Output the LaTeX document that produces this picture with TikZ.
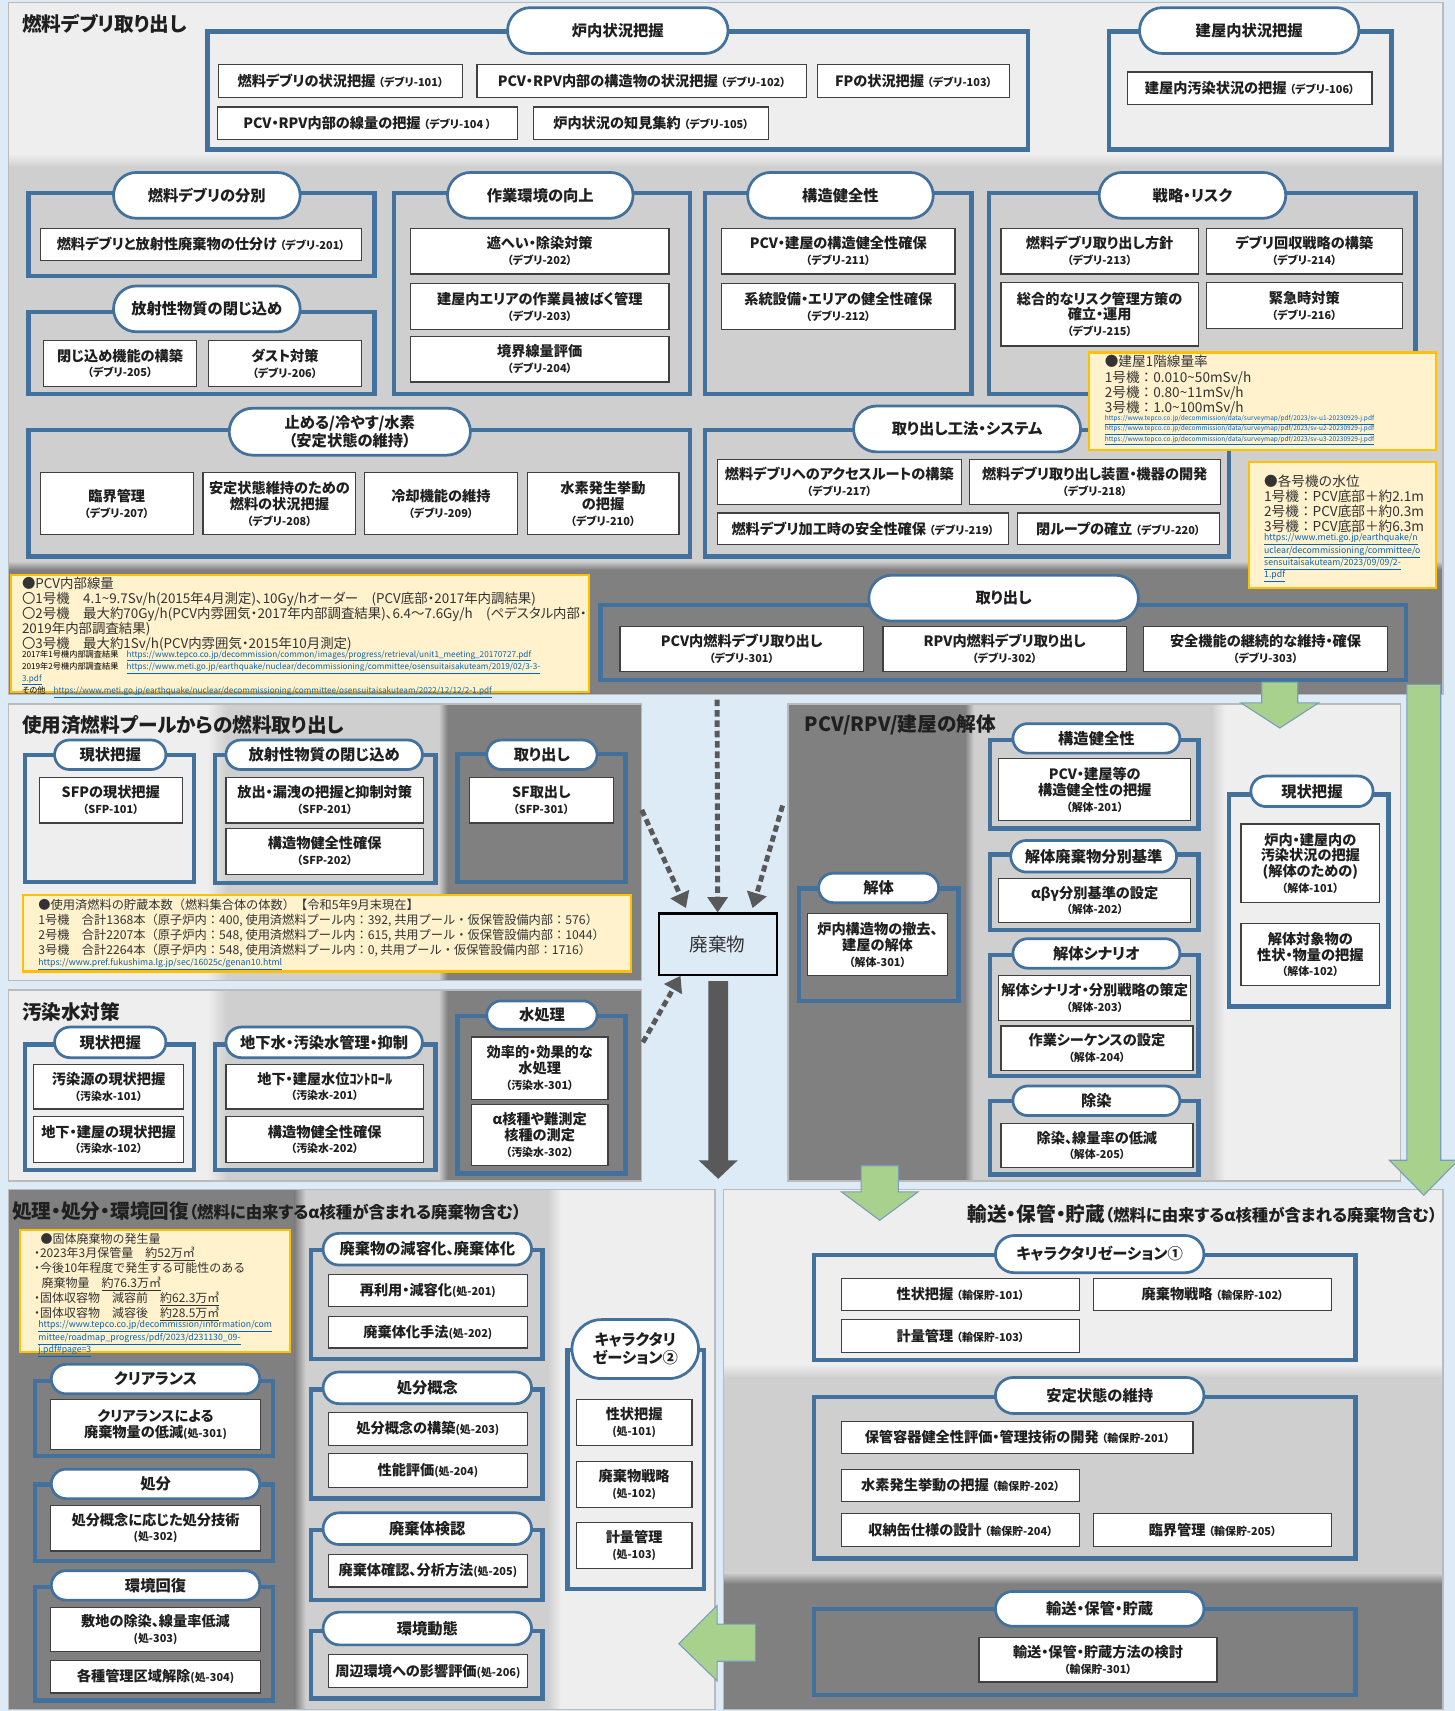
\documentclass[tikz,border=0pt]{standalone}
\usepackage{fontspec}
\setmainfont{Noto Sans CJK JP}[RawFeature=+palt]
\newfontfamily\plainjp{Noto Sans CJK JP}
\usetikzlibrary{shapes.misc,arrows.meta,calc}
\definecolor{bgblue}{HTML}{DDEBF7}
\definecolor{bandlight}{HTML}{EEEEEE}
\definecolor{bandmid}{HTML}{CFCFCF}
\definecolor{banddark}{HTML}{808080}
\definecolor{frameblue}{HTML}{41719C}
\definecolor{boxline}{HTML}{404040}
\definecolor{txt}{HTML}{1F1F1F}
\definecolor{notefill}{HTML}{FFF2CC}
\definecolor{noteline}{HTML}{FFC000}
\definecolor{notetxt}{HTML}{333333}
\definecolor{linkblue}{HTML}{0563C1}
\definecolor{arrowgreen}{HTML}{A9D18E}
\definecolor{arrowdark}{HTML}{595959}
\definecolor{panelline}{HTML}{BBBBBB}
\newcommand\titlefont{\fontsize{18}{20}\selectfont\bfseries}
\newcommand\subtitlefont{\fontsize{15}{17}\selectfont\bfseries}
\newcommand\pillfont{\fontsize{14}{16.5}\selectfont\bfseries}
\newcommand\boxfont{\fontsize{13}{14.5}\selectfont\bfseries}
\newcommand\cde[1]{{\fontsize{10}{11}\selectfont （#1）}}
\newcommand\cdh[1]{{\fontsize{10}{11}\selectfont (#1)}}
\newcommand\nb{{\fontfamily{\familydefault}\selectfont ・}}
\newcommand\lnk[1]{\textcolor{linkblue}{\underline{#1}}}
\newcommand\mkbox[6]{\node[bx, minimum width={#4-#2}, minimum height={#5-#3}] (#1) at ({(#2+#4)/2},{(#3+#5)/2}) {#6};}
\newcommand\mkpill[6]{\node[pill, minimum width={#4-#2}, minimum height={#5-#3}] (#1) at ({(#2+#4)/2},{(#3+#5)/2}) {#6};}
\newcommand\mknote[5]{\node[note, minimum width={#4-#2}, minimum height={#5-#3}] (#1) at ({(#2+#4)/2},{(#3+#5)/2}) {};}
\newcommand\mkgrp[4]{\draw[grp] (#1,#2) rectangle (#3,#4);}
\tikzset{
 grp/.style={draw=frameblue, line width=4pt},
 pill/.style={rounded rectangle, draw=frameblue, line width=2.5pt, fill=white, inner sep=0pt, align=center, font=\pillfont, text=txt},
 bx/.style={rectangle, draw=boxline, line width=1.1pt, fill=white, inner sep=0pt, align=center, font=\boxfont, text=txt},
 note/.style={rectangle, draw=noteline, line width=2pt, fill=notefill, inner sep=0pt},
 ntext/.style={anchor=north west, inner sep=0pt, align=left, text=notetxt},
 ttl/.style={anchor=west, inner sep=0pt, font=\titlefont, text=txt},
 paneledge/.style={draw=panelline, line width=1.2pt},
 dasharrow/.style={draw=arrowdark, line width=4.5pt, dash pattern=on 6pt off 3.5pt, -{Triangle[width=18pt,length=14pt]}},
 greenarrow/.style={fill=arrowgreen, draw=frameblue!70, line width=1pt},
}
\begin{document}
\begin{tikzpicture}[x=1pt,y=-1pt]
\useasboundingbox (0,0) rectangle (1333,1567.6);
\fill[bgblue] (0,0) rectangle (1333,1567.6);

% ---------- Panel A ----------
\fill[bandlight] (8,2) rectangle (1322,147);
\shade[top color=bandlight,bottom color=bandmid] (8,141) rectangle (1322,153);
\fill[bandmid] (8,153) rectangle (1322,514);
\shade[top color=bandmid,bottom color=banddark] (8,514) rectangle (1322,522);
\fill[banddark] (8,522) rectangle (1322,636);
\draw[paneledge] (8,2) rectangle (1322,636);
\node[ttl] (tA) at (20,21.5) {燃料デブリ取り出し};

\mkgrp{190}{29}{942}{137}
\mkpill{pRonai}{465}{7}{667}{49}{炉内状況把握}
\mkbox{b101}{200}{59}{424}{89}{燃料デブリの状況把握 \cde{デブリ-101}}
\mkbox{b102}{437}{59}{739}{89}{PCV・RPV内部の構造物の状況把握 \cde{デブリ-102}}
\mkbox{b103}{749}{59}{925}{89}{FPの状況把握 \cde{デブリ-103}}
\mkbox{b104}{199}{98}{474}{128}{PCV・RPV内部の線量の把握 \cde{デブリ-104 }}
\mkbox{b105}{489}{98}{704}{128}{炉内状況の知見集約 \cde{デブリ-105}}

\mkgrp{1016}{29}{1275}{137}
\mkpill{pTateya}{1044}{7}{1245}{49}{建屋内状況把握}
\mkbox{b106}{1033}{66}{1257}{96}{建屋内汚染状況の把握 \cde{デブリ-106}}

\mkgrp{26}{177}{343}{253}
\mkpill{pBunbetsu}{104}{158}{275}{200}{燃料デブリの分別}
\mkbox{b201}{37}{209}{331}{239}{燃料デブリと放射性廃棄物の仕分け \cde{デブリ-201}}

\mkgrp{26}{286}{343}{361}
\mkpill{pTojikome}{104}{262}{275}{304}{放射性物質の閉じ込め}
\mkbox{b205}{40}{312}{180}{354}{閉じ込め機能の構築\\\cde{デブリ-205}}
\mkbox{b206}{191}{312}{331}{354}{ダスト対策\\\cde{デブリ-206}}

\mkgrp{361}{177}{632}{361}
\mkpill{pSagyo}{410}{158}{580}{200}{作業環境の向上}
\mkbox{b202}{376}{209}{613}{251}{遮へい・除染対策\\\cde{デブリ-202}}
\mkbox{b203}{376}{260}{613}{302}{建屋内エリアの作業員被ばく管理\\\cde{デブリ-203}}
\mkbox{b204}{376}{308}{613}{350}{境界線量評価\\\cde{デブリ-204}}

\mkgrp{646}{177}{890}{361}
\mkpill{pKozo}{685}{158}{855}{200}{構造健全性}
\mkbox{b211}{661}{209}{875}{251}{PCV・建屋の構造健全性確保\\\cde{デブリ-211}}
\mkbox{b212}{661}{260}{875}{302}{系統設備・エリアの健全性確保\\\cde{デブリ-212}}

\mkgrp{906}{177}{1297}{361}
\mkpill{pSenryaku}{1007}{158}{1178}{200}{戦略・リスク}
\mkbox{b213}{917}{209}{1098}{251}{燃料デブリ取り出し方針\\\cde{デブリ-213}}
\mkbox{b214}{1105}{209}{1285}{251}{デブリ回収戦略の構築\\\cde{デブリ-214}}
\mkbox{b215}{917}{259}{1098}{317}{総合的なリスク管理方策の\\確立・運用\\\cde{デブリ-215}}
\mkbox{b216}{1105}{259}{1285}{301}{緊急時対策\\\cde{デブリ-216}}

\mkgrp{26}{394}{632}{510}
\mkpill{pTomeru}{210}{374}{431}{417}{止める/冷やす/水素\\（安定状態の維持）}
\mkbox{b207}{37}{433}{177}{490}{臨界管理\\\cde{デブリ-207}}
\mkbox{b208}{186}{433}{326}{490}{安定状態維持のための\\燃料の状況把握\\\cde{デブリ-208}}
\mkbox{b209}{334}{433}{474}{490}{冷却機能の維持\\\cde{デブリ-209}}
\mkbox{b210}{483}{433}{622}{490}{水素発生挙動\\の把握\\\cde{デブリ-210}}

\mkgrp{646}{394}{1126}{510}
\mkpill{pKoho}{782}{372}{990}{414}{取り出し工法・システム}
\mkbox{b217}{657}{421}{881}{462}{燃料デブリへのアクセスルートの構築\\\cde{デブリ-217}}
\mkbox{b218}{888}{421}{1118}{462}{燃料デブリ取り出し装置・機器の開発\\\cde{デブリ-218}}
\mkbox{b219}{657}{470}{924}{499}{燃料デブリ加工時の安全性確保 \cde{デブリ-219}}
\mkbox{b220}{932}{470}{1117}{499}{閉ループの確立 \cde{デブリ-220}}

% note: building dose rate
\mknote{nDose}{998}{323}{1316}{412}
\node[ntext, font=\plainjp\fontsize{12.5}{14}\selectfont] (nDoseT) at (1012,325.5) {●建屋1階線量率\\1号機：0.010\textasciitilde 50mSv/h\\2号機：0.80\textasciitilde 11mSv/h\\3号機：1.0\textasciitilde 100mSv/h};
\node[ntext, font=\fontsize{6}{7}\selectfont] (nDoseU) at (1012,380.5) {\lnk{https://www.tepco.co.jp/decommission/data/surveymap/pdf/2023/sv-u1-20230929-j.pdf}\\\lnk{https://www.tepco.co.jp/decommission/data/surveymap/pdf/2023/sv-u2-20230929-j.pdf}\\\lnk{https://www.tepco.co.jp/decommission/data/surveymap/pdf/2023/sv-u3-20230929-j.pdf}};

% note: water level
\mknote{nWater}{1144}{423}{1316}{539}
\node[ntext, font=\plainjp\fontsize{12.5}{13.6}\selectfont] (nWaterT) at (1158,435) {●各号機の水位\\1号機：PCV底部＋約2.1m\\2号機：PCV底部＋約0.3m\\3号機：PCV底部＋約6.3m};
\node[ntext, font=\fontsize{8}{9.3}\selectfont] (nWaterU) at (1158,489) {\lnk{https://www.meti.go.jp/earthquake/n}\\\lnk{uclear/decommissioning/committee/o}\\\lnk{sensuitaisakuteam/2023/09/09/2-}\\\lnk{1.pdf}};

% note: PCV dose
\mknote{nPcv}{10}{527}{540}{634}
\node[ntext, font=\fontsize{12.3}{13.7}\selectfont] (nPcvT) at (20,529) {●PCV内部線量\\〇1号機　4.1\textasciitilde 9.7Sv/h(2015年4月測定)、10Gy/hオーダー　(PCV底部・2017年内調結果)\\〇2号機　最大約70Gy/h(PCV内雰囲気・2017年内部調査結果)、6.4～7.6Gy/h　(ペデスタル内部・\\2019年内部調査結果)\\〇3号機　最大約1Sv/h(PCV内雰囲気・2015年10月測定)};
\node[ntext, font=\fontsize{7.5}{9}\selectfont] (nPcvU) at (20,595.5) {{\color{black}2017年1号機内部調査結果}　\lnk{https://www.tepco.co.jp/decommission/common/images/progress/retrieval/unit1\_meeting\_20170727.pdf}\\{\color{black}2019年2号機内部調査結果}　\lnk{https://www.meti.go.jp/earthquake/nuclear/decommissioning/committee/osensuitaisakuteam/2019/02/3-3-}\\\lnk{3.pdf}\\{\color{black}その他}　\lnk{https://www.meti.go.jp/earthquake/nuclear/decommissioning/committee/osensuitaisakuteam/2022/12/12/2-1.pdf}};

\mkgrp{550}{554}{1288}{623}
\mkpill{pToridashi}{796}{527}{1043}{569}{取り出し}
\mkbox{b301}{568}{574}{791}{615}{PCV内燃料デブリ取り出し\\\cde{デブリ-301}}
\mkbox{b302}{809}{574}{1032}{615}{RPV内燃料デブリ取り出し\\\cde{デブリ-302}}
\mkbox{b303}{1048}{574}{1271}{615}{安全機能の継続的な維持・確保\\\cde{デブリ-303}}

% ---------- Panel B ----------
\fill[bandlight] (8,645) rectangle (190,898);
\shade[left color=bandlight,right color=bandmid] (190,645) rectangle (208,898);
\fill[bandmid] (208,645) rectangle (402,898);
\shade[left color=bandmid,right color=banddark] (402,645) rectangle (410,898);
\fill[banddark] (410,645) rectangle (588,898);
\draw[paneledge] (8,645) rectangle (588,898);
\node[ttl] (tB) at (20,664) {使用済燃料プールからの燃料取り出し};

\mkgrp{23}{692}{178}{808}
\mkpill{pSfpGen}{50}{678}{152}{705}{現状把握}
\mkbox{s101}{36}{712}{167}{754}{SFPの現状把握\\\cde{SFP-101}}
\mkgrp{197}{692}{399}{809}
\mkpill{pSfpToji}{207}{678}{387}{705}{放射性物質の閉じ込め}
\mkbox{s201}{207}{712}{388}{754}{放出・漏洩の把握と抑制対策\\\cde{SFP-201}}
\mkbox{s202}{207}{759}{388}{801}{構造物健全性確保\\\cde{SFP-202}}
\mkgrp{419}{691}{573}{808}
\mkpill{pSfpTori}{446}{678}{547}{705}{取り出し}
\mkbox{s301}{430}{712}{562}{754}{SF取出し\\\cde{SFP-301}}

\mknote{nSfp}{21}{820}{578}{890}
\node[ntext, font=\plainjp\fontsize{11.2}{13.7}\selectfont] (nSfpT) at (35,823.5) {●使用済燃料の貯蔵本数（燃料集合体の体数）【令和5年9月末現在】\\1号機　合計1368本（原子炉内：400, 使用済燃料プール内：392, 共用プール・仮保管設備内部：576）\\2号機　合計2207本（原子炉内：548, 使用済燃料プール内：615, 共用プール・仮保管設備内部：1044）\\3号機　合計2264本（原子炉内：548, 使用済燃料プール内：0, 共用プール・仮保管設備内部：1716）};
\node[ntext, font=\fontsize{8}{9}\selectfont] (nSfpU) at (35,878) {\lnk{https://www.pref.fukushima.lg.jp/sec/16025c/genan10.html}};

% ---------- Panel C ----------
\fill[bandlight] (8,907) rectangle (190,1082);
\shade[left color=bandlight,right color=bandmid] (190,907) rectangle (208,1082);
\fill[bandmid] (208,907) rectangle (402,1082);
\shade[left color=bandmid,right color=banddark] (402,907) rectangle (410,1082);
\fill[banddark] (410,907) rectangle (588,1082);
\draw[paneledge] (8,907) rectangle (588,1082);
\node[ttl] (tC) at (20,927) {汚染水対策};

\mkgrp{23}{957}{178}{1072}
\mkpill{pWGen}{50}{941}{152}{969}{現状把握}
\mkbox{w101}{31}{975}{168}{1016}{汚染源の現状把握\\\cde{汚染水-101}}
\mkbox{w102}{31}{1023}{168}{1065}{地下・建屋の現状把握\\\cde{汚染水-102}}
\mkgrp{197}{957}{399}{1072}
\mkpill{pWChika}{207}{941}{387}{969}{地下水・汚染水管理・抑制}
\mkbox{w201}{207}{975}{388}{1016}{地下・建屋水位ｺﾝﾄﾛｰﾙ\\\cde{汚染水-201}}
\mkbox{w202}{207}{1023}{388}{1065}{構造物健全性確保\\\cde{汚染水-202}}
\mkgrp{419}{931}{573}{1075}
\mkpill{pWShori}{446}{917}{547}{943}{水処理}
\mkbox{w301}{432}{950}{557}{1007}{効率的・効果的な\\水処理\\\cde{汚染水-301}}
\mkbox{w302}{432}{1012}{557}{1068}{α核種や難測定\\核種の測定\\\cde{汚染水-302}}

% ---------- Panel D ----------
\fill[banddark] (722,645) rectangle (884,1082);
\shade[left color=banddark,right color=bandmid] (884,645) rectangle (892,1082);
\fill[bandmid] (892,645) rectangle (1110,1082);
\shade[left color=bandmid,right color=bandlight] (1110,645) rectangle (1122,1082);
\fill[bandlight] (1122,645) rectangle (1283,1082);
\draw[paneledge] (722,645) rectangle (1283,1082);
\node[ttl] (tD) at (737,664) {PCV/RPV/建屋の解体};

\mkgrp{732}{814}{878}{917}
\mkpill{pKaitai}{750}{800}{860}{827}{解体}
\mkbox{d301}{740}{837}{868}{894}{炉内構造物の撤去、\\建屋の解体\\\cde{解体-301}}
\mkgrp{907}{678}{1098}{759}
\mkpill{pDKozo}{928}{663}{1081}{690}{構造健全性}
\mkbox{d201}{915}{695}{1091}{752}{PCV・建屋等の\\構造健全性の把握\\\cde{解体-201}}
\mkgrp{907}{783}{1098}{852}
\mkpill{pDBun}{926}{770}{1078}{799}{解体廃棄物分別基準}
\mkbox{d202}{915}{805}{1091}{845}{αβγ分別基準の設定\\\cde{解体-202}}
\mkgrp{907}{875}{1098}{986}
\mkpill{pDScen}{928}{860}{1081}{887}{解体シナリオ}
\mkbox{d203}{915}{894}{1091}{935}{解体シナリオ・分別戦略の策定\\\cde{解体-203}}
\mkbox{d204}{917}{940}{1093}{981}{作業シーケンスの設定\\\cde{解体-204}}
\mkgrp{907}{1009}{1098}{1076}
\mkpill{pDJosen}{928}{995}{1081}{1022}{除染}
\mkbox{d205}{917}{1029}{1093}{1070}{除染、線量率の低減\\\cde{解体-205}}
\mkgrp{1126}{728}{1272}{922}
\mkpill{pDGen}{1146}{711}{1258}{739}{現状把握}
\mkbox{d101}{1137}{755}{1264}{827}{炉内・建屋内の\\汚染状況の把握\\(解体のための)\\\cde{解体-101}}
\mkbox{d102}{1137}{846}{1264}{903}{解体対象物の\\性状・物量の把握\\\cde{解体-102}}

% ---------- Panel E ----------
\fill[banddark] (8,1090) rectangle (270,1566);
\shade[left color=banddark,right color=bandmid] (270,1090) rectangle (280,1566);
\fill[bandmid] (280,1090) rectangle (502,1566);
\shade[left color=bandmid,right color=bandlight] (502,1090) rectangle (514,1566);
\fill[bandlight] (514,1090) rectangle (655,1566);
\draw[paneledge] (8,1090) rectangle (655,1566);
\node[ttl] (tE) at (11,1110) {処理・処分・環境回復{\subtitlefont（燃料に由来するα核種が含まれる廃棄物含む）}};

\mknote{nWaste}{18}{1127}{266}{1239}
\node[ntext, font=\plainjp\fontsize{11}{13.6}\selectfont] (nWasteT) at (31,1129.5) {\hspace*{6pt}●固体廃棄物の発生量\\\nb 2023年3月保管量　\underline{約52万㎥}\\\nb 今後10年程度で発生する可能性のある\\\hspace*{7pt}廃棄物量　\underline{約76.3万㎥}\\\nb 固体収容物　減容前　\underline{約62.3万㎥}\\\nb 固体収容物　減容後　\underline{約28.5万㎥}};
\node[ntext, font=\fontsize{8}{9}\selectfont] (nWasteU) at (35,1210) {\lnk{https://www.tepco.co.jp/decommission/information/com}\\\lnk{mittee/roadmap\_progress/pdf/2023/d231130\_09-}\\\lnk{j.pdf\#page=3}};

\mkgrp{32}{1265}{250}{1334}
\mkpill{pClear}{47}{1250}{238}{1277}{クリアランス}
\mkbox{e301}{46}{1282}{239}{1328}{クリアランスによる\\廃棄物量の低減\cdh{処-301}}
\mkgrp{32}{1360}{250}{1430}
\mkpill{pShobun}{47}{1346}{238}{1373}{処分}
\mkbox{e302}{46}{1379}{239}{1421}{処分概念に応じた処分技術\\\cdh{処-302}}
\mkgrp{32}{1454}{250}{1558}
\mkpill{pKankyo}{47}{1439}{238}{1466}{環境回復}
\mkbox{e303}{46}{1473}{239}{1513}{敷地の除染、線量率低減\\\cdh{処-303}}
\mkbox{e304}{46}{1521}{239}{1551}{各種管理区域解除\cdh{処-304}}

\mkgrp{285}{1145}{497}{1245}
\mkpill{pGenyo}{296}{1130}{487}{1159}{廃棄物の減容化、廃棄体化}
\mkbox{e201}{301}{1168}{483}{1197}{再利用・減容化\cdh{処-201}}
\mkbox{e202}{301}{1206}{483}{1235}{廃棄体化手法\cdh{処-202}}
\mkgrp{285}{1273}{497}{1373}
\mkpill{pGainen}{296}{1257}{487}{1286}{処分概念}
\mkbox{e203}{301}{1294}{483}{1324}{処分概念の構築\cdh{処-203}}
\mkbox{e204}{301}{1332}{483}{1363}{性能評価\cdh{処-204}}
\mkgrp{285}{1402}{497}{1466}
\mkpill{pKennin}{296}{1386}{487}{1415}{廃棄体検認}
\mkbox{e205}{301}{1424}{483}{1454}{廃棄体確認、分析方法\cdh{処-205}}
\mkgrp{285}{1494}{497}{1556}
\mkpill{pDotai}{296}{1477}{487}{1507}{環境動態}
\mkbox{e206}{301}{1516}{483}{1546}{周辺環境への影響評価\cdh{処-206}}

\mkgrp{520}{1237}{645}{1456}
\mkpill{pChara2}{524}{1209}{640}{1263}{キャラクタリ\\ゼーション②}
\mkbox{e101}{528}{1282}{634}{1324}{性状把握\\\cdh{処-101}}
\mkbox{e102}{528}{1339}{634}{1381}{廃棄物戦略\\\cdh{処-102}}
\mkbox{e103}{528}{1395}{634}{1437}{計量管理\\\cdh{処-103}}

% ---------- Panel F ----------
\fill[bandlight] (663,1090) rectangle (1322,1250);
\shade[top color=bandlight,bottom color=bandmid] (663,1250) rectangle (1322,1262);
\fill[bandmid] (663,1262) rectangle (1322,1441);
\shade[top color=bandmid,bottom color=banddark] (663,1441) rectangle (1322,1451);
\fill[banddark] (663,1451) rectangle (1322,1566);
\draw[paneledge] (663,1090) rectangle (1322,1566);
\node[ttl, anchor=east] (tF) at (1317,1112) {輸送・保管・貯蔵{\subtitlefont（燃料に由来するα核種が含まれる廃棄物含む）}};

\mkgrp{746}{1150}{1242}{1246}
\mkpill{pChara1}{912}{1132}{1103}{1166}{キャラクタリゼーション①}
\mkbox{f101}{771}{1171}{989}{1201}{性状把握 \cde{輸保貯-101}}
\mkbox{f102}{1002}{1171}{1220}{1201}{廃棄物戦略 \cde{輸保貯-102}}
\mkbox{f103}{771}{1209}{989}{1239}{計量管理 \cde{輸保貯-103}}
\mkgrp{746}{1280}{1242}{1428}
\mkpill{pAntei}{912}{1262}{1103}{1295}{安定状態の維持}
\mkbox{f201}{771}{1302}{1093}{1332}{保管容器健全性評価・管理技術の開発 \cde{輸保貯-201}}
\mkbox{f202}{771}{1346}{989}{1376}{水素発生挙動の把握 \cde{輸保貯-202}}
\mkbox{f204}{771}{1387}{989}{1417}{収納缶仕様の設計 \cde{輸保貯-204}}
\mkbox{f205}{1002}{1387}{1220}{1417}{臨界管理 \cde{輸保貯-205}}
\mkgrp{746}{1474}{1242}{1553}
\mkpill{pYuso}{912}{1458}{1103}{1490}{輸送・保管・貯蔵}
\mkbox{f301}{897}{1500}{1115}{1541}{輸送・保管・貯蔵方法の検討\\\cde{輸保貯-301}}

% ---------- Waste node and arrows ----------
\node[rectangle, draw=black, line width=2pt, fill=bgblue, minimum width=108, minimum height=56, inner sep=0pt, font=\fontsize{17}{19}\selectfont, text=notetxt] (w) at (657.5,865) {廃棄物};

\coordinate (ds1) at (657,641);
\coordinate (ds2) at (588,742);
\coordinate (ds3) at (717,738);
\coordinate (ds4) at (589,955);
\draw[dasharrow] (ds1) -- (w.north);
\draw[dasharrow] (ds2) -- ($(w.north west)+(26,-4)$);
\draw[dasharrow] (ds3) -- ($(w.north east)+(-23,-4)$);
\draw[dasharrow] (ds4) -- ($(w.south west)+(21,0)$);

\fill[arrowdark] (649,899) -- (667,899) -- (667,1063) -- (676,1063) -- (658,1080) -- (640,1063) -- (649,1063) -- cycle;

\filldraw[greenarrow] (1156,625) -- (1189,625) -- (1189,644) -- (1208,644) -- (1172.5,667) -- (1137,644) -- (1156,644) -- cycle;
\filldraw[greenarrow] (1289,627) -- (1320,627) -- (1320,1063) -- (1336,1063) -- (1304.5,1095) -- (1273,1063) -- (1289,1063) -- cycle;
\filldraw[greenarrow] (789,1068) -- (823,1068) -- (823,1092) -- (841,1092) -- (806,1118) -- (771,1092) -- (789,1092) -- cycle;
\filldraw[greenarrow] (692,1488) -- (692,1522) -- (657,1522) -- (657,1540) -- (622,1506) -- (657,1471) -- (657,1488) -- cycle;
\end{tikzpicture}
\end{document}
